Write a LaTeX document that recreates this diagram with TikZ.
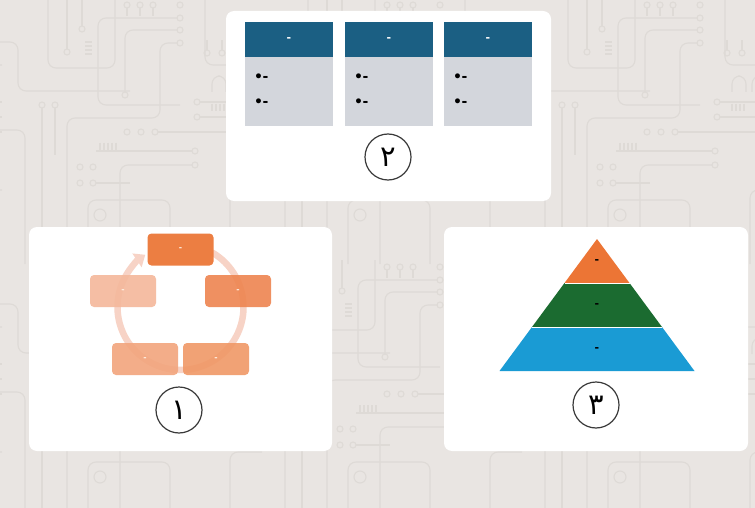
\documentclass[tikz,border=0pt]{standalone}
\usepackage{fontspec}
\setmainfont{DejaVu Sans}
\newfontfamily\arabicfont[Script=Arabic]{DejaVu Sans}
\TeXXeTstate=1
\usetikzlibrary{arrows.meta}

\definecolor{bgc}{HTML}{E9E5E2}
\definecolor{tracec}{HTML}{DEDAD6}
\definecolor{headc}{HTML}{1B5F83}
\definecolor{bodyc}{HTML}{D3D6DC}
\definecolor{ringc}{HTML}{F7D3C6}
\definecolor{oA}{HTML}{EC7A3C}
\definecolor{oB}{HTML}{EE8550}
\definecolor{oC}{HTML}{F09866}
\definecolor{oD}{HTML}{F2A57D}
\definecolor{oE}{HTML}{F4B89B}
\definecolor{pyrA}{HTML}{EC7535}
\definecolor{pyrB}{HTML}{1B6B30}
\definecolor{pyrC}{HTML}{1A9BD4}
\definecolor{numc}{HTML}{3A3A3A}

\tikzset{
  trace/.style={draw=tracec, line width=1.1pt, rounded corners=8pt},
  pin/.style={draw=tracec, line width=1.1pt},
  panel/.style={fill=white, rounded corners=8pt},
  headbox/.style={fill=headc, text=white, minimum width=88pt, minimum height=35pt, inner sep=0pt, font=\fontsize{11}{11}\selectfont\bfseries},
  bodybox/.style={fill=bodyc, minimum width=88pt, minimum height=69pt, inner sep=0pt},
  bullet/.style={anchor=west, inner sep=0pt, font=\fontsize{14}{14}\selectfont\bfseries},
  cyclebox/.style={rounded corners=4pt, minimum width=66pt, minimum height=32pt, inner sep=0pt, fill opacity=0.9, text opacity=1, text=white!90!orange, font=\fontsize{8}{8}\selectfont\bfseries},
  numring/.style={circle, draw=numc, line width=1.2pt, minimum size=46pt, inner sep=0pt, font=\arabicfont\fontsize{29}{29}\selectfont},
  pyrtext/.style={inner sep=0pt, font=\fontsize{11}{11}\selectfont\bfseries},
}

% one repeating cell of the circuit-board backdrop (260 x 262)
\newcommand\circuittile{%
  \draw[trace] (48,-2) -- (48,68) -- (115,68) -- (115,-2);
  \draw[trace] (-2,42) -- (18,42) -- (18,91) -- (130,91);
  \draw[pin] (82,-2) -- (82,26);  \draw[pin] (82,29) circle[radius=3];
  \draw[pin] (67,-2) -- (67,49);  \draw[pin] (67,52) circle[radius=3];
  \foreach \px in {127,140,153} {\draw[pin] (\px,5) circle[radius=3]; \draw[pin] (\px,8) -- (\px,16);}
  \foreach \py in {5,18,30,43} {\draw[pin] (180,\py) circle[radius=3];}
  \draw[trace] (177,18) -- (98,18) -- (98,105) -- (180,105);
  \draw[trace] (177,30) -- (125,30) -- (125,92);
  \draw[pin] (125,95) circle[radius=3];
  \draw[trace] (177,43) -- (160,43) -- (160,118) -- (67,118) -- (67,264);
  \foreach \py in {42,46,50,54} {\draw[pin] (85,\py) -- (92,\py);}
  \foreach \px in {42,55} {\draw[pin] (\px,105) circle[radius=3];}
  \draw[pin] (42,108) -- (42,264);
  \draw[pin] (55,108) -- (55,155);
  \foreach \px in {127,141,155} {\draw[pin] (\px,132) circle[radius=3];}
  \draw[pin] (158,132) -- (262,132);
  \foreach \px in {100,104,108,112,116} {\draw[pin] (\px,143) -- (\px,150);}
  \draw[pin] (96,151) -- (192,151);
  \draw[pin] (195,151) circle[radius=3];
  \foreach \px in {80,93} {\draw[pin] (\px,167) circle[radius=3]; \draw[pin] (\px,183) circle[radius=3];}
  \draw[pin] (96,183) -- (130,183);
  \draw[trace] (192,165) -- (120,165) -- (120,264);
  \draw[pin] (195,165) circle[radius=3];
  \draw[trace] (88,264) -- (88,200) -- (170,200) -- (170,264);
  \draw[pin] (100,215) circle[radius=6];
  \draw[trace] (-2,130) -- (25,130) -- (25,264);
  \draw[trace] (205,-2) -- (205,65) -- (262,65);
  \foreach \px in {207,222} {\draw[pin] (\px,53) circle[radius=3]; \draw[pin] (\px,50) -- (\px,40);}
  \draw[trace] (212,92) -- (212,76) -- (226,76) -- (226,92);
  \draw[trace] (232,92) -- (232,76) -- (246,76) -- (246,92);
  \draw[pin] (197,102) circle[radius=3];
  \draw[pin] (197,117) circle[radius=3];
  \draw[pin] (200,102) -- (262,102);
  \draw[pin] (200,117) -- (262,117);
  \foreach \px in {212,216,220,224} {\draw[pin] (\px,104) -- (\px,111);}
  \draw[trace] (230,264) -- (230,190) -- (262,190);
}

\begin{document}
\begin{tikzpicture}[x=1pt, y=-1pt]
\useasboundingbox (0,0) rectangle (755,508);
\fill[bgc] (0,0) rectangle (755,508);

% backdrop
\begin{scope}
  \clip (0,0) rectangle (755,508);
  \foreach \i in {-1,0,1,2} {
    \foreach \j in {0,1} {
      \begin{scope}[shift={(\i*260,\j*262)}]
        \circuittile
      \end{scope}
    }
  }
\end{scope}

% panels
\fill[panel] (226,11) rectangle (551,201);
\fill[panel] (29,227) rectangle (332,451);
\fill[panel] (444,227) rectangle (748,451);

% ---- panel 2: three lists ----
\foreach \n/\cx in {1/289, 2/389, 3/488} {
  \node[headbox] (head\n) at (\cx,39.5) {-};
  \node[bodybox] (body\n) at (\cx,91.5) {};
  \node[bullet] (bulA\n) at (\cx-35,78) {•\kern-0.5pt-};
  \node[bullet] (bulB\n) at (\cx-35,103) {•\kern-0.5pt-};
}
\node[numring] (num2) at (388,157) {\beginR ٢\endR};

% ---- panel 1: cycle ----
\coordinate (cyc) at (180.5,307);
\draw[ringc, line width=6.5pt, -{Triangle[width=16pt,length=10pt]}]
  (cyc) ++(-60:63) arc[start angle=-60, end angle=236, radius=63];
\node[cyclebox, fill=oE] (c5) at (123,291) {-};
\node[cyclebox, fill=oD] (c4) at (145,359) {-};
\node[cyclebox, fill=oC] (c3) at (216,359) {-};
\node[cyclebox, fill=oB] (c2) at (238,291) {-};
\node[cyclebox, fill=oA, fill opacity=0.97] (c1) at (180.5,249.5) {-};
\node[numring] (num1) at (179,410) {\beginR ١\endR};

% ---- panel 3: pyramid ----
\fill[pyrA] (597,239) -- (629.5,283) -- (564.5,283) -- cycle;
\fill[pyrB] (564.5,283) -- (629.5,283) -- (662,327) -- (532,327) -- cycle;
\fill[pyrC] (532,327) -- (662,327) -- (694.5,371) -- (499.5,371) -- cycle;
\draw[white, line width=0.8pt] (564.5,283) -- (629.5,283);
\draw[white, line width=0.8pt] (532,327) -- (662,327);
\node[pyrtext] (t1) at (597,262) {-};
\node[pyrtext] (t2) at (597,306) {-};
\node[pyrtext] (t3) at (597,350) {-};
\node[numring] (num3) at (596,405) {\beginR ٣\endR};
\end{tikzpicture}
\end{document}
